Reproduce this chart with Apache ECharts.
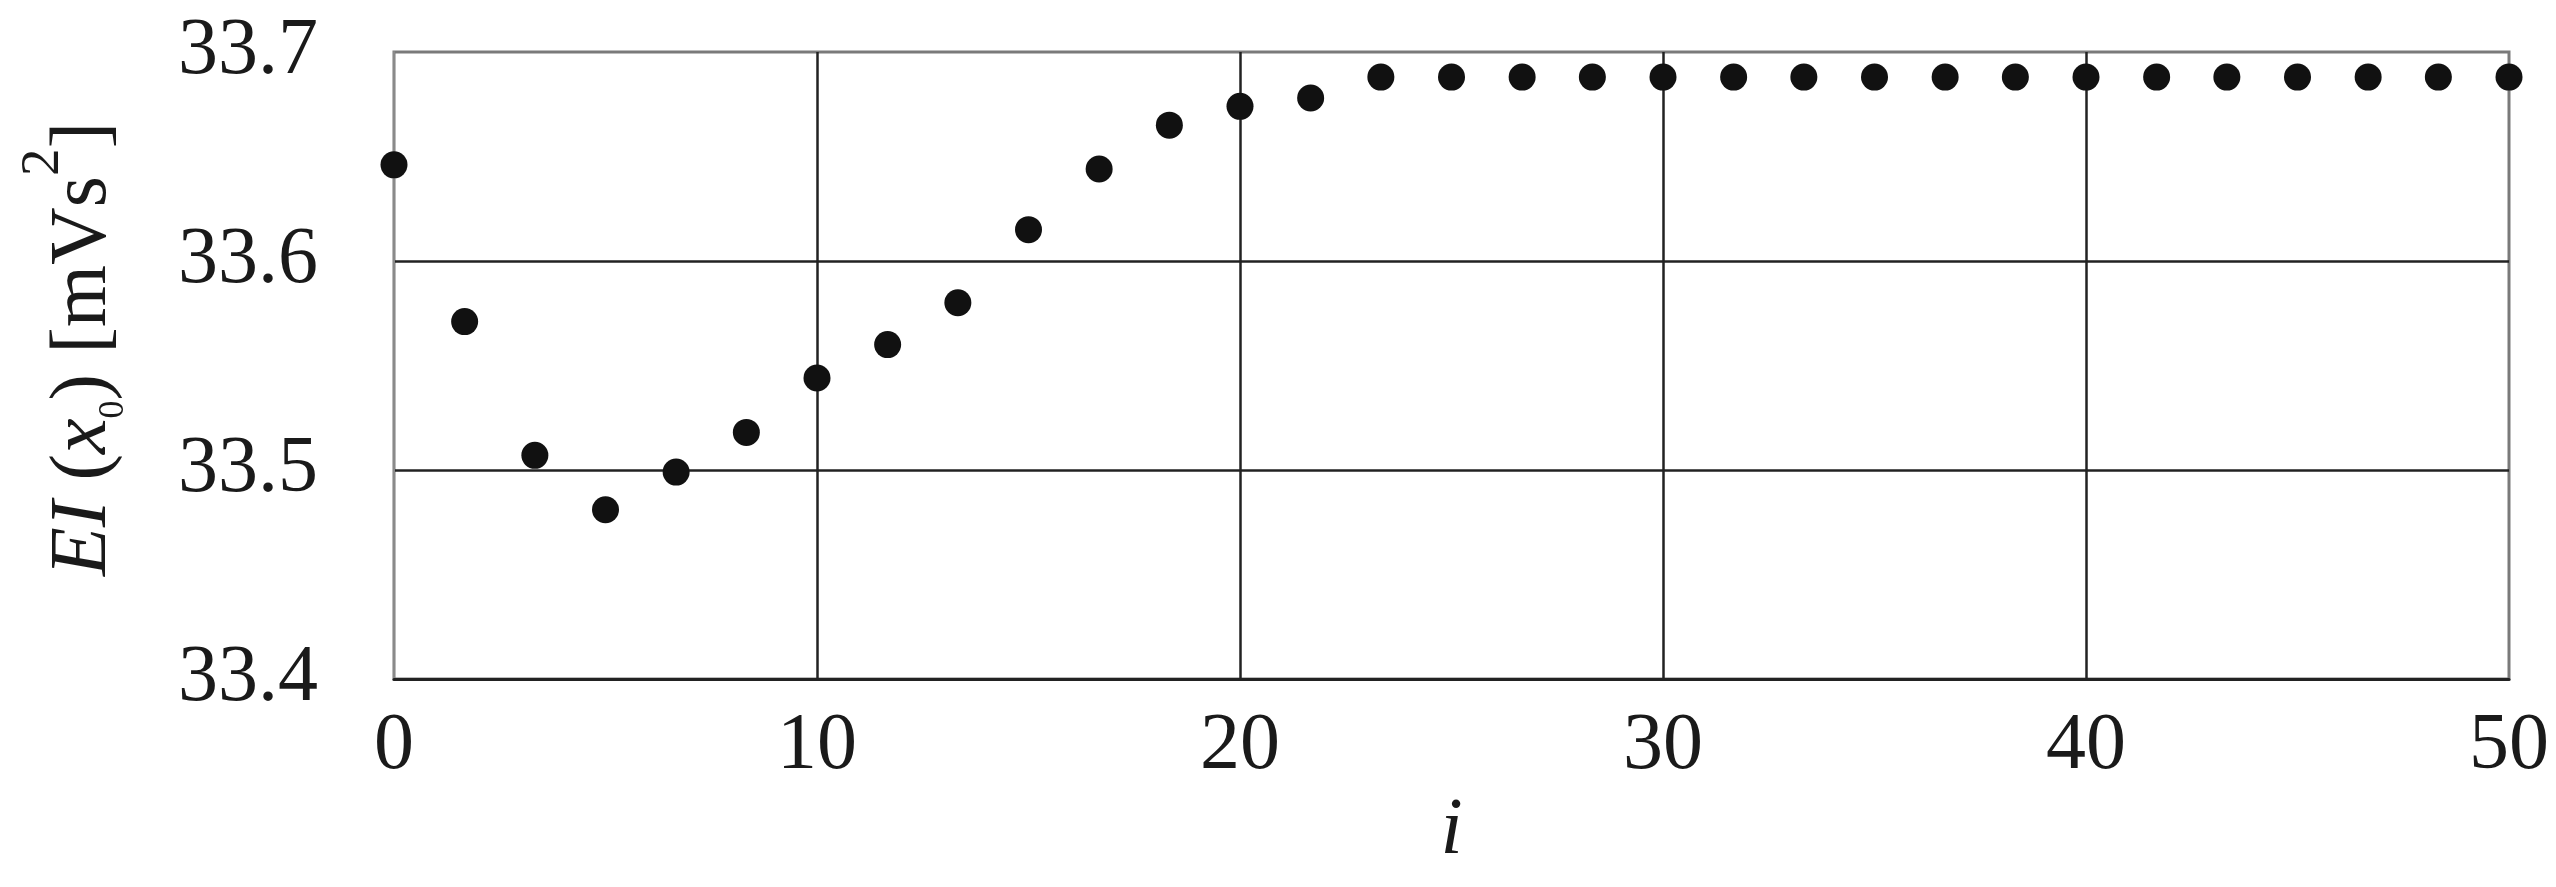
<!DOCTYPE html>
<html>
<head>
<meta charset="utf-8">
<script src="https://cdn.jsdelivr.net/npm/echarts@6/dist/echarts.min.js"></script>
<style>
html,body{margin:0;padding:0;background:#fff;}
#chart{width:2556px;height:887px;}
</style>
</head>
<body>
<div id="chart"></div>
<script>
const iterations = [0, 1.67, 3.33, 5, 6.67, 8.33, 10, 11.67, 13.33, 15, 16.67, 18.33, 20, 21.67, 23.33, 25, 26.67, 28.33, 30, 31.67, 33.33, 35, 36.67, 38.33, 40, 41.67, 43.33, 45, 46.67, 48.33, 50];
const eiValues = [33.646, 33.571, 33.507, 33.481, 33.499, 33.518, 33.544, 33.560, 33.580, 33.615, 33.644, 33.665, 33.674, 33.678, 33.688, 33.688, 33.688, 33.688, 33.688, 33.688, 33.688, 33.688, 33.688, 33.688, 33.688, 33.688, 33.688, 33.688, 33.688, 33.688, 33.688];
const xTicks = [0, 10, 20, 30, 40, 50];
const yTicks = [33.4, 33.5, 33.6, 33.7];

const FONT = '"Liberation Serif", "DejaVu Serif", serif';
const TXT = '#1a1a1a';

const chart = echarts.init(document.getElementById('chart'), null, {renderer: 'canvas'});
chart.setOption({
  animation: false,
  backgroundColor: '#fff',
  grid: {
    left: 394, right: 47, top: 52, bottom: 208,
    show: true, borderColor: '#7a7a7a', borderWidth: 3, backgroundColor: 'transparent'
  },
  xAxis: {
    type: 'value',
    min: xTicks[0], max: xTicks[xTicks.length - 1], interval: 10,
    name: 'i',
    nameLocation: 'middle',
    nameGap: 108,
    nameTextStyle: {fontFamily: FONT, fontSize: 80, fontStyle: 'italic', color: TXT},
    axisLine: {show: true, lineStyle: {color: '#222', width: 3}},
    axisTick: {show: false},
    axisLabel: {margin: 28, fontFamily: FONT, fontSize: 80, color: TXT},
    splitLine: {show: true, showMinLine: false, showMaxLine: false, lineStyle: {color: '#222', width: 2.5}}
  },
  yAxis: {
    type: 'value',
    min: yTicks[0], max: yTicks[yTicks.length - 1], interval: 0.1,
    name: '{i|EI} ({i|x}{sub|0}) [mVs{sup|2}]',
    nameLocation: 'middle',
    nameGap: 242,
    nameTextStyle: {
      fontFamily: FONT, fontSize: 80, color: TXT, lineHeight: 136,
      padding: [0, 0, 0, 33],
      rich: {
        i: {fontFamily: FONT, fontSize: 80, fontStyle: 'italic', color: TXT, lineHeight: 136},
        sub: {fontFamily: FONT, fontSize: 36, color: TXT, verticalAlign: 'bottom', padding: [0, 0, 20, 0]},
        sup: {fontFamily: FONT, fontSize: 55, color: TXT, verticalAlign: 'top'}
      }
    },
    axisLine: {show: true, lineStyle: {color: '#8a8a8a', width: 2}},
    axisTick: {show: false},
    axisLabel: {margin: 76, fontFamily: FONT, fontSize: 80, color: TXT, formatter: v => v.toFixed(1)},
    splitLine: {show: true, showMinLine: false, showMaxLine: false, lineStyle: {color: '#222', width: 2.5}}
  },
  series: [{
    type: 'scatter',
    data: iterations.map((x, k) => [x, eiValues[k]]),
    symbol: 'circle',
    symbolSize: 27,
    itemStyle: {color: '#111', opacity: 1},
    clip: false,
    z: 5
  }]
});
</script>
</body>
</html>
